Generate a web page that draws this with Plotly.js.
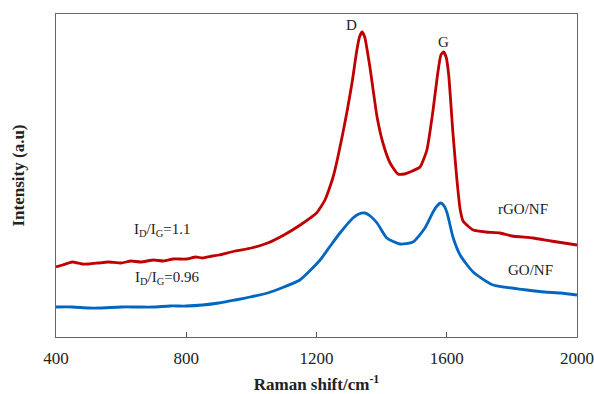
<!DOCTYPE html>
<html><head><meta charset="utf-8">
<script src="https://cdn.plot.ly/plotly-3.0.1.min.js"></script>
<style>html,body{margin:0;padding:0;background:#fff}#c{width:594px;height:394px}</style>
</head><body><div id="c"></div>
<script>
// Raman shift (cm^-1) and intensity (a.u.)
const rgoShift = [400,420,450,480,500,530,560,600,630,660,700,730,760,800,830,850,880,900,950,1000,1050,1100,1150,1200,1226,1251,1281,1309,1324,1332,1340,1348,1364,1386,1404,1426,1450,1470,1487,1518,1539,1558,1572,1582,1590,1598,1606,1619,1631,1641,1650,1665,1681,1720,1764,1800,1865,1920,1960,2000];
const rgoInt   = [70,72,75,73,73,74,75,74,76,75,77,76,78,78,80,79,81,82,86,89,94,102,112,124,137,160,204,254,287,300,305,300,270,220,194,174,163,163,165,170,187,227,263,282,285,280,262,204,158,128,116,111,107,105,104,101,99,96,94,92];
const goShift  = [400,450,500,535,600,650,700,750,800,850,900,950,996,1050,1100,1149,1211,1240,1272,1312,1330,1349,1365,1386,1416,1456,1496,1533,1558,1570,1581,1592,1602,1619,1641,1681,1742,1800,1846,1900,1950,2000];
const goInt    = [30,30,29,29,30,30,30,31,31,32,34,37,40,44,50,57,77,90,104,119,123,124,121,114,99,93,95,109,125,131,134,131,123,100,82,65,52,49,47,45,44,42];
const xTicks   = [400,800,1200,1600,2000];
const seriesNames = ['rGO/NF','GO/NF'];

const serif = 'Liberation Serif, Times New Roman, serif';
const traces = [
  {x: rgoShift, y: rgoInt, name: seriesNames[0], mode:'lines', line:{color:'#C00000', width:2.8, shape:'spline', smoothing:0.5}},
  {x: goShift, y: goInt, name: seriesNames[1], mode:'lines', line:{color:'#0066C0', width:2.8, shape:'spline', smoothing:0.6}}
];
const ann = (x,y,t)=>({x:x,y:y,xref:'x',yref:'y',text:t,showarrow:false,font:{family:serif,size:15,color:'#222'}});
const layout = {
  width:594, height:394,
  margin:{l:56,r:17,t:14,b:57},
  paper_bgcolor:'#fff', plot_bgcolor:'#fff',
  showlegend:false,
  xaxis:{range:[400,2000], tickvals:xTicks, ticktext:xTicks.map(String), ticks:'inside', ticklen:5, tickcolor:'#555',
    showline:true, linecolor:'#666', linewidth:1, mirror:true, showgrid:false, zeroline:false,
    ticklabelstandoff:6, ticklabeloverflow:'allow',
    tickfont:{family:serif,size:17,color:'#222'},
    title:{text:'<b>Raman shift/cm<sup>-1</sup></b>', font:{family:serif,size:17,color:'#222'}, standoff:10}},
  yaxis:{range:[0,323], showticklabels:false, ticks:'', showline:true, linecolor:'#666', linewidth:1, mirror:true,
    showgrid:false, zeroline:false,
    title:{text:'<b>Intensity (a.u)</b>', font:{family:serif,size:17,color:'#222'}, standoff:26}},
  annotations:[
    ann(1309,312,'D'), ann(1591,295,'G'),
    ann(1834,128,'rGO/NF'), ann(1856,67,'GO/NF'),
    ann(726,107,'I<sub>D</sub>/I<sub>G</sub>=1.1'), ann(741,59,'I<sub>D</sub>/I<sub>G</sub>=0.96')
  ]
};
Plotly.newPlot('c', traces, layout, {displayModeBar:false, staticPlot:true});
</script></body></html>
